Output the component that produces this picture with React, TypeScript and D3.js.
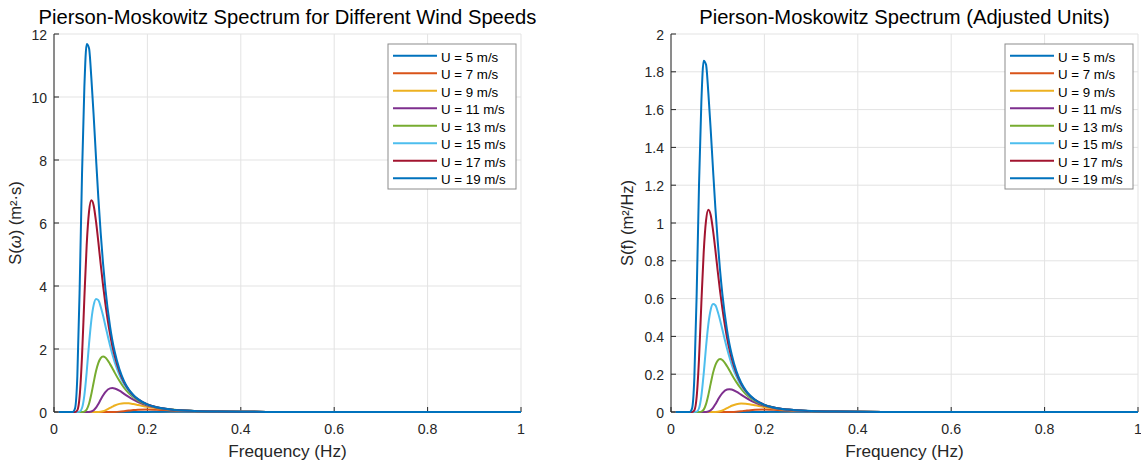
import React from 'react'
import * as d3 from 'd3'

// frequency grid (Hz) the curves are read on
const freq = [
  0.01, 0.04, 0.045, 0.05, 0.055, 0.06, 0.065, 0.07, 0.075, 0.08, 0.085, 0.09, 0.095, 0.1, 0.105, 0.11,
  0.12, 0.125, 0.13, 0.14, 0.15, 0.16, 0.17, 0.18, 0.2, 0.22, 0.25, 0.3, 0.35, 0.4, 0.5, 0.6, 0.8, 1,
]

const speeds = [5, 7, 9, 11, 13, 15, 17, 19]
const colors = ['#0072BD', '#D95319', '#EDB120', '#7E2F8E', '#77AC30', '#4DBEEE', '#A2142F', '#0072BD']

// S(omega) in m^2*s, left plot
const omegaU5 = [
  0, 0, 0, 0, 0, 0, 0, 0, 0, 0, 0, 0, 0, 0, 0, 0, 0, 0, 0, 0, 0, 0,
  0.0001, 0.0005, 0.003, 0.0078, 0.0136, 0.0139, 0.0096, 0.006, 0.0023, 0.001, 0.0003, 0.0001,
]
const omegaU7 = [
  0, 0, 0, 0, 0, 0, 0, 0, 0, 0, 0, 0, 0, 0, 0, 0,
  0.0005, 0.0014, 0.0034, 0.012, 0.027, 0.045, 0.062, 0.072, 0.079, 0.071, 0.051, 0.026, 0.013, 0.0073, 0.0025, 0.001, 0.0003, 0.0001,
]
const omegaU9 = [
  0, 0, 0, 0, 0, 0, 0, 0, 0, 0, 0, 0,
  0.003, 0.01, 0.026, 0.051, 0.128, 0.168, 0.207, 0.258, 0.279, 0.274, 0.252, 0.223, 0.163, 0.116, 0.068, 0.03, 0.0144, 0.0076, 0.0025, 0.001, 0.0003, 0.0001,
]
const omegaU11 = [
  0, 0, 0, 0, 0, 0, 0, 0,
  0.002, 0.016, 0.057, 0.138, 0.257, 0.394, 0.524, 0.63, 0.75, 0.76, 0.745, 0.675, 0.578, 0.478, 0.39, 0.315,
  0.206, 0.136, 0.0755, 0.0315, 0.0149, 0.0076, 0.0025, 0.001, 0.0003, 0.0001,
]
const omegaU13 = [
  0, 0, 0, 0, 0, 0, 0.013, 0.079, 0.26, 0.57, 0.945, 1.3, 1.56, 1.71, 1.76, 1.73, 1.52, 1.39, 1.25, 0.99,
  0.77, 0.6, 0.466, 0.364, 0.225, 0.145, 0.079, 0.0326, 0.015, 0.0076, 0.0025, 0.001, 0.0003, 0.0001,
]
const omegaU15 = [
  0, 0, 0, 0, 0.011, 0.125, 0.53, 1.27, 2.16, 2.92, 3.4, 3.59, 3.55, 3.34, 3.06, 2.74, 2.11, 1.83, 1.58, 1.18,
  0.88, 0.67, 0.5, 0.39, 0.236, 0.149, 0.08, 0.032, 0.015, 0.0076, 0.0025, 0.001, 0.0003, 0.0001,
]
const omegaU17 = [
  0, 0, 0, 0.056, 0.51, 1.77, 3.61, 5.3, 6.36, 6.72, 6.55, 6.04, 5.39, 4.69, 4.03, 3.44, 2.47, 2.09, 1.78, 1.29,
  0.94, 0.7, 0.52, 0.4, 0.24, 0.15, 0.08, 0.032, 0.015, 0.0076, 0.0025, 0.001, 0.0003, 0.0001,
]
const omegaU19 = [
  0, 0, 0.11, 1.15, 3.95, 7.55, 10.3, 11.68, 11.55, 10.6, 9.39, 8.06, 6.79, 5.68, 4.72, 3.92, 2.72, 2.27, 1.91, 1.36,
  0.98, 0.72, 0.54, 0.41, 0.24, 0.152, 0.081, 0.033, 0.015, 0.0077, 0.0025, 0.001, 0.0003, 0.0001,
]

// S(f) in m^2/Hz, right plot
const hzU5 = [
  0, 0, 0, 0, 0, 0, 0, 0, 0, 0, 0, 0, 0, 0, 0, 0, 0, 0, 0, 0, 0, 0,
  0.00002, 0.0001, 0.0005, 0.0012, 0.0022, 0.0022, 0.0015, 0.001, 0.0004, 0.00016, 0.00005, 0.00002,
]
const hzU7 = [
  0, 0, 0, 0, 0, 0, 0, 0, 0, 0, 0, 0, 0, 0, 0, 0,
  0.0001, 0.0002, 0.0005, 0.0019, 0.0043, 0.0072, 0.0099, 0.0115, 0.0126, 0.0113, 0.0081, 0.0041, 0.0021, 0.0012, 0.0004, 0.00016, 0.00005, 0.00002,
]
const hzU9 = [
  0, 0, 0, 0, 0, 0, 0, 0, 0, 0, 0, 0,
  0.0005, 0.0016, 0.0041, 0.0081, 0.0204, 0.0267, 0.0329, 0.0411, 0.0444, 0.0436, 0.0401, 0.0355, 0.0259, 0.0185, 0.0108, 0.0048, 0.0023, 0.0012, 0.0004, 0.00016, 0.00005, 0.00002,
]
const hzU11 = [
  0, 0, 0, 0, 0, 0, 0, 0,
  0.0003, 0.0025, 0.0091, 0.022, 0.0409, 0.0627, 0.0834, 0.1003, 0.1194, 0.121, 0.1186, 0.1074, 0.092, 0.0761, 0.0621, 0.0501,
  0.0328, 0.0216, 0.012, 0.005, 0.0024, 0.0012, 0.0004, 0.00016, 0.00005, 0.00002,
]
const hzU13 = [
  0, 0, 0, 0, 0, 0, 0.0021, 0.0126, 0.0414, 0.0907, 0.15, 0.207, 0.248, 0.272, 0.28, 0.275, 0.242, 0.221, 0.199, 0.158,
  0.123, 0.0955, 0.0742, 0.0579, 0.0358, 0.0231, 0.0126, 0.0052, 0.0024, 0.0012, 0.0004, 0.00016, 0.00005, 0.00002,
]
const hzU15 = [
  0, 0, 0, 0, 0.0018, 0.0199, 0.0844, 0.202, 0.344, 0.465, 0.541, 0.571, 0.565, 0.532, 0.487, 0.436, 0.336, 0.291, 0.251, 0.188,
  0.14, 0.107, 0.08, 0.062, 0.0376, 0.0237, 0.0127, 0.0051, 0.0024, 0.0012, 0.0004, 0.00016, 0.00005, 0.00002,
]
const hzU17 = [
  0, 0, 0, 0.0089, 0.081, 0.282, 0.575, 0.844, 1.012, 1.07, 1.042, 0.961, 0.858, 0.746, 0.641, 0.548, 0.393, 0.333, 0.283, 0.205,
  0.15, 0.111, 0.083, 0.064, 0.038, 0.024, 0.0127, 0.0051, 0.0024, 0.0012, 0.0004, 0.00016, 0.00005, 0.00002,
]
const hzU19 = [
  0, 0, 0.0175, 0.183, 0.629, 1.202, 1.639, 1.859, 1.838, 1.687, 1.494, 1.283, 1.081, 0.904, 0.751, 0.624, 0.433, 0.361, 0.304, 0.216,
  0.156, 0.115, 0.086, 0.065, 0.038, 0.024, 0.0129, 0.0053, 0.0024, 0.0012, 0.0004, 0.00016, 0.00005, 0.00002,
]

const omegaSeries = [omegaU5, omegaU7, omegaU9, omegaU11, omegaU13, omegaU15, omegaU17, omegaU19]
const hzSeries = [hzU5, hzU7, hzU9, hzU11, hzU13, hzU15, hzU17, hzU19]

const freqTicks = [0, 0.2, 0.4, 0.6, 0.8, 1]
const omegaTicks = [0, 2, 4, 6, 8, 10, 12]
const hzTicks = [0, 0.2, 0.4, 0.6, 0.8, 1, 1.2, 1.4, 1.6, 1.8, 2]

const FONT = '"Liberation Sans", Arial, Helvetica, sans-serif'
const TEXT = '#262626'

function Panel({left, title, yLabel, yLabelGap, yMax, yTicks, series}) {
  const top = 34
  const bottom = 412
  const w = 467
  const x = d3.scaleLinear().domain([0, 1]).range([left, left + w])
  const y = d3.scaleLinear().domain([0, yMax]).range([bottom, top])
  const line = d3
    .line()
    .x((d, i) => x(freq[i]))
    .y((d) => y(d))
    .curve(d3.curveMonotoneX)
  const fmt = (t) => String(+t.toFixed(1))

  const legX = x(1) - 133
  const legY = 44
  const rowH = 17.5

  return (
    <g fontFamily={FONT}>
      {/* grid */}
      {freqTicks.map((t) => (
        <line key={'gx' + t} x1={x(t)} x2={x(t)} y1={top} y2={bottom} stroke="#e3e3e3" strokeWidth={1} />
      ))}
      {yTicks.map((t) => (
        <line key={'gy' + t} x1={x(0)} x2={x(1)} y1={y(t)} y2={y(t)} stroke="#e3e3e3" strokeWidth={1} />
      ))}

      {/* axes */}
      <line x1={x(0)} x2={x(0)} y1={top} y2={bottom} stroke={TEXT} strokeWidth={1} />
      <line x1={x(0)} x2={x(1)} y1={bottom} y2={bottom} stroke={TEXT} strokeWidth={1} />
      {freqTicks.map((t) => (
        <g key={'tx' + t}>
          <line x1={x(t)} x2={x(t)} y1={bottom} y2={bottom - 5} stroke={TEXT} />
          <text x={x(t)} y={bottom + 22} textAnchor="middle" fontSize={14.2} fill={TEXT}>
            {fmt(t)}
          </text>
        </g>
      ))}
      {yTicks.map((t) => (
        <g key={'ty' + t}>
          <line x1={x(0)} x2={x(0) + 5} y1={y(t)} y2={y(t)} stroke={TEXT} />
          <text x={x(0) - 7} y={y(t) + 5.5} textAnchor="end" fontSize={14} fill={TEXT}>
            {fmt(t)}
          </text>
        </g>
      ))}

      {/* curves, U = 5 first so U = 19 ends on top */}
      {series.map((vals, k) => (
        <path key={'c' + k} d={line(vals)} fill="none" stroke={colors[k]} strokeWidth={2} strokeLinejoin="round" />
      ))}

      {/* titles */}
      <text x={x(0.5)} y={24} textAnchor="middle" fontSize={20.2} fill="#000">
        {title}
      </text>
      <text x={x(0.5)} y={457} textAnchor="middle" fontSize={17.2} fill={TEXT}>
        Frequency (Hz)
      </text>
      <text
        transform={`translate(${left - yLabelGap},${(top + bottom) / 2}) rotate(-90)`}
        textAnchor="middle"
        fontSize={16.5}
        fill={TEXT}
      >
        {yLabel}
      </text>

      {/* legend */}
      <rect x={legX} y={legY} width={128} height={145} fill="#fff" stroke="#8c8c8c" strokeWidth={1} />
      {speeds.map((u, k) => (
        <g key={'l' + u}>
          <line
            x1={legX + 5}
            x2={legX + 49}
            y1={legY + 11.7 + k * rowH}
            y2={legY + 11.7 + k * rowH}
            stroke={colors[k]}
            strokeWidth={2}
          />
          <text x={legX + 53} y={legY + 17.5 + k * rowH} fontSize={13.3} fill="#000">
            {`U = ${u} m/s`}
          </text>
        </g>
      ))}
    </g>
  )
}

export default function App() {
  return (
    <svg
      width={1141}
      height={466}
      style={{position: 'absolute', left: 0, top: 0, background: '#fff'}}
    >
      <Panel
        left={54}
        title="Pierson-Moskowitz Spectrum for Different Wind Speeds"
        yLabel={
          <>
            S(<tspan fontStyle="italic">ω</tspan>) (m²·s)
          </>
        }
        yLabelGap={33}
        yMax={12}
        yTicks={omegaTicks}
        series={omegaSeries}
      />
      <Panel
        left={671}
        title="Pierson-Moskowitz Spectrum (Adjusted Units)"
        yLabel="S(f) (m²/Hz)"
        yLabelGap={38}
        yMax={2}
        yTicks={hzTicks}
        series={hzSeries}
      />
    </svg>
  )
}
